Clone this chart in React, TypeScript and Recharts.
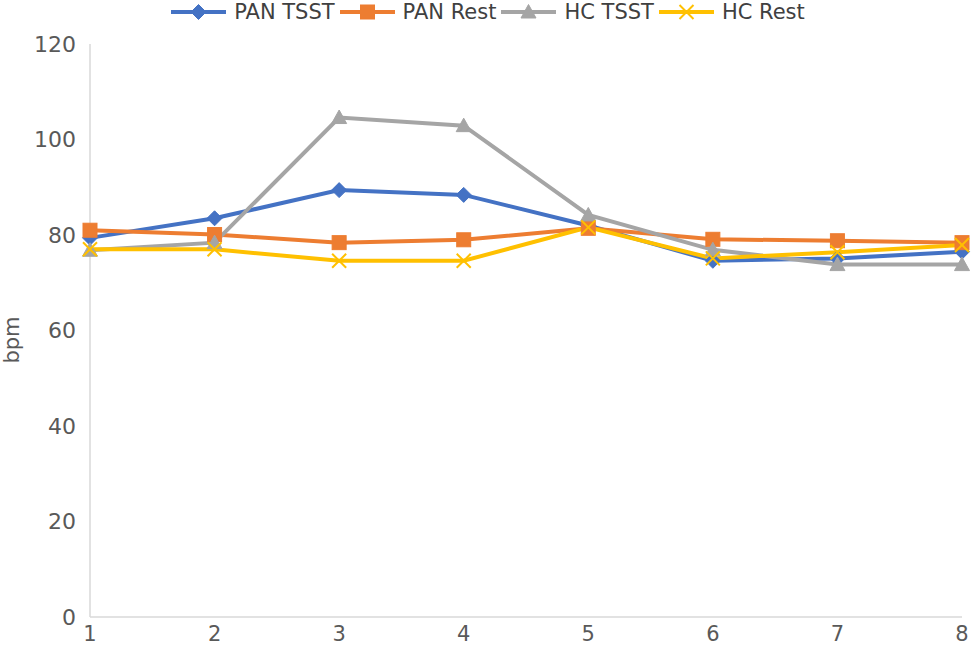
import React from "react";
import { LineChart, Line, XAxis, YAxis, Label } from "recharts";

const timepoints = [1, 2, 3, 4, 5, 6, 7, 8];
const panTsst = [79.4, 83.5, 89.4, 88.4, 82.0, 74.6, 75.1, 76.5];
const panRest = [81.0, 80.1, 78.4, 79.0, 81.4, 79.1, 78.8, 78.4];
const hcTsst = [76.8, 78.4, 104.6, 102.9, 84.2, 76.9, 73.8, 73.8];
const hcRest = [77.0, 77.0, 74.6, 74.6, 81.6, 75.1, 76.4, 77.9];
const yTicks = [0, 20, 40, 60, 80, 100, 120];

const seriesNames = ["PAN TSST", "PAN Rest", "HC TSST", "HC Rest"];
const seriesKeys = ["panTsst", "panRest", "hcTsst", "hcRest"];
const seriesColors = ["#4472C4", "#ED7D31", "#A5A5A5", "#FFC000"];
const seriesMarkers = ["diamond", "square", "triangle", "x"];

const data = timepoints.map((t, i) => ({
  t,
  panTsst: panTsst[i],
  panRest: panRest[i],
  hcTsst: hcTsst[i],
  hcRest: hcRest[i],
}));

const FONT = "'DejaVu Sans', sans-serif";
const TEXT = "#595959";

function Marker({ kind, cx, cy, color }: { kind: string; cx: number; cy: number; color: string }) {
  if (cx == null || cy == null) return null;
  if (kind === "diamond") {
    const s = 7.5;
    return <path d={`M${cx},${cy - s}L${cx + s},${cy}L${cx},${cy + s}L${cx - s},${cy}Z`} fill={color} stroke={color} strokeWidth={1} />;
  }
  if (kind === "square") {
    const s = 7;
    return <rect x={cx - s} y={cy - s} width={2 * s} height={2 * s} fill={color} stroke={color} strokeWidth={1} />;
  }
  if (kind === "triangle") {
    const s = 7.5;
    return <path d={`M${cx},${cy - s}L${cx + s},${cy + s * 0.8}L${cx - s},${cy + s * 0.8}Z`} fill={color} stroke={color} strokeWidth={1} />;
  }
  const s = 7;
  return (
    <g stroke={color} strokeWidth={2}>
      <line x1={cx - s} y1={cy - s} x2={cx + s} y2={cy + s} />
      <line x1={cx - s} y1={cy + s} x2={cx + s} y2={cy - s} />
    </g>
  );
}

function LegendBar() {
  return (
    <div
      style={{
        position: "absolute",
        top: 0,
        left: 0,
        width: 976,
        height: 24,
        display: "flex",
        justifyContent: "center",
        alignItems: "center",
        fontFamily: FONT,
        fontSize: 21,
        color: "#404040",
      }}
    >
      {seriesNames.map((name, i) => (
        <div key={name} style={{ display: "flex", alignItems: "center", marginLeft: i === 0 ? 0 : 5 }}>
          <svg width={55} height={20} style={{ display: "block" }}>
            <line x1={0} y1={10} x2={55} y2={10} stroke={seriesColors[i]} strokeWidth={4} />
            <Marker kind={seriesMarkers[i]} cx={27.5} cy={10} color={seriesColors[i]} />
          </svg>
          <span style={{ marginLeft: 8, lineHeight: "24px" }}>{name}</span>
        </div>
      ))}
    </div>
  );
}

function BpmLabel() {
  return (
    <text
      x={19}
      y={340}
      transform="rotate(-90 19 340)"
      textAnchor="middle"
      fill={TEXT}
      fontSize={21}
      fontFamily={FONT}
    >
      bpm
    </text>
  );
}

export default function App() {
  return (
    <div style={{ position: "absolute", top: 0, left: 0, width: 976, height: 649, background: "#fff" }}>
      <LegendBar />
      <LineChart
        width={976}
        height={649}
        data={data}
        margin={{ top: 44, right: 14, bottom: 0, left: 0 }}
      >
        <XAxis
          dataKey="t"
          type="number"
          domain={[1, 8]}
          ticks={timepoints}
          height={32}
          axisLine={{ stroke: "#D9D9D9", strokeWidth: 1.5 }}
          tickLine={false}
          tick={{ fill: TEXT, fontSize: 21, fontFamily: FONT }}
          tickMargin={3}
          interval={0}
        />
        <YAxis
          type="number"
          domain={[0, 120]}
          ticks={yTicks}
          width={90}
          axisLine={{ stroke: "#D9D9D9", strokeWidth: 1.5 }}
          tickLine={false}
          tick={{ fill: TEXT, fontSize: 22, fontFamily: FONT }}
          tickMargin={8}
          interval={0}
        >
          <Label content={() => <BpmLabel />} />
        </YAxis>
        {seriesKeys.map((k, i) => (
          <Line
            key={k}
            dataKey={k}
            name={seriesNames[i]}
            stroke={seriesColors[i]}
            strokeWidth={4}
            isAnimationActive={false}
            dot={(p: any) => <Marker key={`${k}-${p.index}`} kind={seriesMarkers[i]} cx={p.cx} cy={p.cy} color={seriesColors[i]} />}
            activeDot={false}
          />
        ))}
      </LineChart>
    </div>
  );
}
